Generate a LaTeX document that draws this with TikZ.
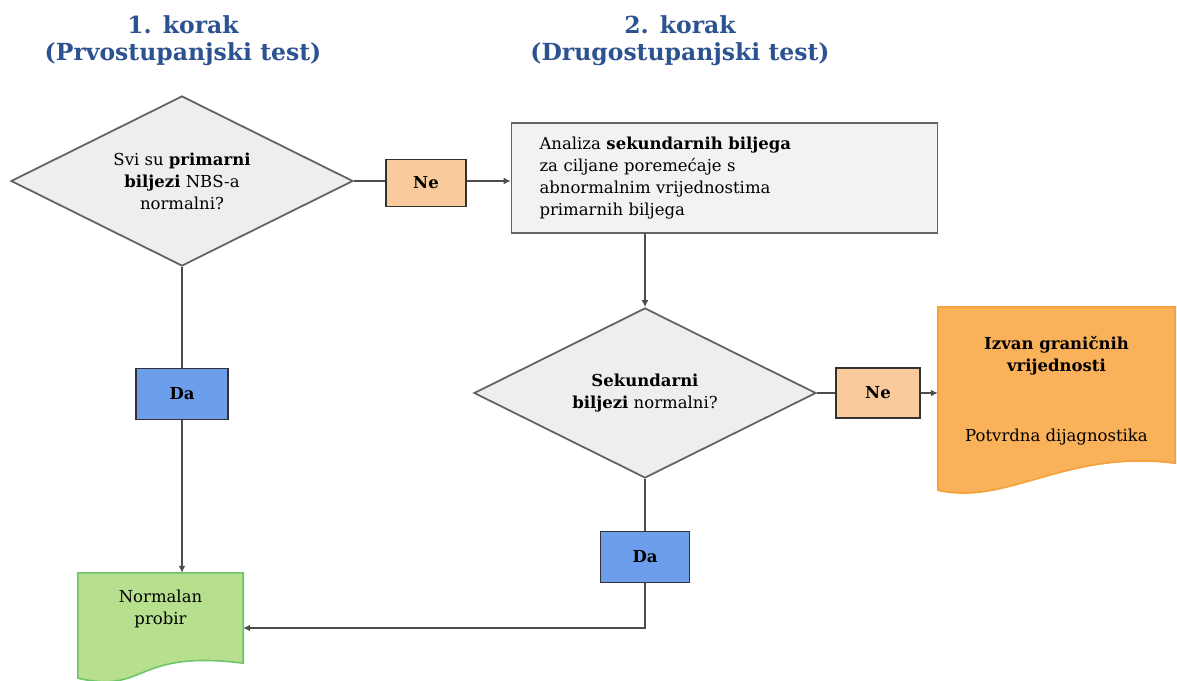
\documentclass[tikz,border=0pt]{standalone}
\usepackage{fontspec}
\setmainfont{DejaVu Serif}
\usetikzlibrary{calc,shapes.geometric,arrows.meta,backgrounds}
\definecolor{naslov}{RGB}{44,82,145}
\definecolor{sivo}{RGB}{238,238,238}
\definecolor{rub}{RGB}{100,100,100}
\definecolor{breskva}{RGB}{249,203,156}
\definecolor{plava}{RGB}{109,158,235}
\definecolor{zelena}{RGB}{183,224,142}
\definecolor{zelenirub}{RGB}{110,196,110}
\definecolor{narancasta}{RGB}{249,177,90}
\definecolor{narancastirub}{RGB}{246,160,58}
\def\valovito[#1](#2)(#3:#4){\draw[#1] (#2.north west) -- (#2.north east) -- ($(#2.south east)+(0,#3)$) .. controls +(-110,-14) and +(70,16) .. ($(#2.south west)+(0,#4)$) -- cycle;}
\tikzset{
  tekst/.style={font=\fontsize{16.5}{22}\selectfont, align=center},
  pitanje/.style={tekst, diamond, aspect=2, draw=rub, line width=1.8pt, fill=sivo, inner sep=0pt, minimum width=342pt, minimum height=170pt},
  odgovor/.style={tekst, draw=black!80, line width=1.1pt, font=\fontsize{16.5}{22}\selectfont\bfseries},
  spoj/.style={draw=black!70, line width=1.8pt},
  strelica/.style={spoj, -{Latex[length=7pt,width=7pt]}}
}
\begin{document}
\begin{tikzpicture}[x=1pt, y=-1pt]
			\useasboundingbox (0,0) rectangle (1177,680);
			
			\node[naslov, align=center, font=\fontsize{23.5}{27}\selectfont\bfseries] (korak1) at (183,41) {1. korak\\(Prvostupanjski test)};
			\node[naslov, align=center, font=\fontsize{23.5}{27}\selectfont\bfseries] (korak2) at (680,41) {2. korak\\(Drugostupanjski test)};
			
			\node[pitanje] (prvo) at (182,181) {Svi su \textbf{primarni}\\\textbf{biljezi} NBS-a\\normalni?};
			\node[odgovor, fill=breskva, minimum width=80pt, minimum height=47pt] (ne1) at (426,183) {Ne};
			\node[tekst, align=left, draw=rub, line width=1.8pt, fill=black!5, text width=370pt, inner xsep=28pt, minimum height=110pt] (analiza) at (724.5,178) {Analiza \textbf{sekundarnih biljega}\\za ciljane poremećaje s\\abnormalnim vrijednostima\\primarnih biljega};
			
			\node[pitanje] (drugo) at (645,393) {\textbf{Sekundarni}\\\textbf{biljezi} normalni?};
			\node[odgovor, fill=breskva, minimum width=84pt, minimum height=50pt] (ne2) at (878,393) {Ne};
			\node[tekst, minimum width=237pt, minimum height=168pt] (izvan) at (1056.5,391) {\textbf{Izvan graničnih}\\\textbf{vrijednosti}\\[48pt]Potvrdna dijagnostika};
			
			\node[odgovor, fill=plava, minimum width=92pt, minimum height=51pt] (da1) at (182,394) {Da};
			\node[odgovor, fill=plava, minimum width=89pt, minimum height=51pt] (da2) at (645,557) {Da};
			\node[tekst, minimum width=165pt, minimum height=72pt] (normalno) at (160.5,609) {Normalan\\probir};
			
			\begin{scope}[on background layer]
				\valovito[line width=1.6pt, draw=narancastirub, fill=narancasta](izvan)(-12:15)
				\valovito[line width=1.6pt, draw=zelenirub, fill=zelena](normalno)(18:33)
			\end{scope}
			
			\draw[spoj] (prvo.east) -- (ne1.west |- prvo.east);
			\draw[strelica] (ne1.east |- prvo.east) -- (analiza.west |- prvo.east);
			\draw[strelica] (drugo.north |- analiza.south) -- (drugo.north);
			\draw[spoj] (drugo.east) -- (ne2.west);
			\draw[strelica] (ne2.east) -- (izvan.west |- ne2.east);
			\draw[spoj] (prvo.south) -- (da1.north);
			\draw[strelica] (da1.south) -- (da1.south |- normalno.north);
			\draw[spoj] (drugo.south) -- (da2.north);
			\draw[strelica] (da2.south) |- ($(normalno.east)+(0,19)$);
			
		\end{tikzpicture}
\end{document}
